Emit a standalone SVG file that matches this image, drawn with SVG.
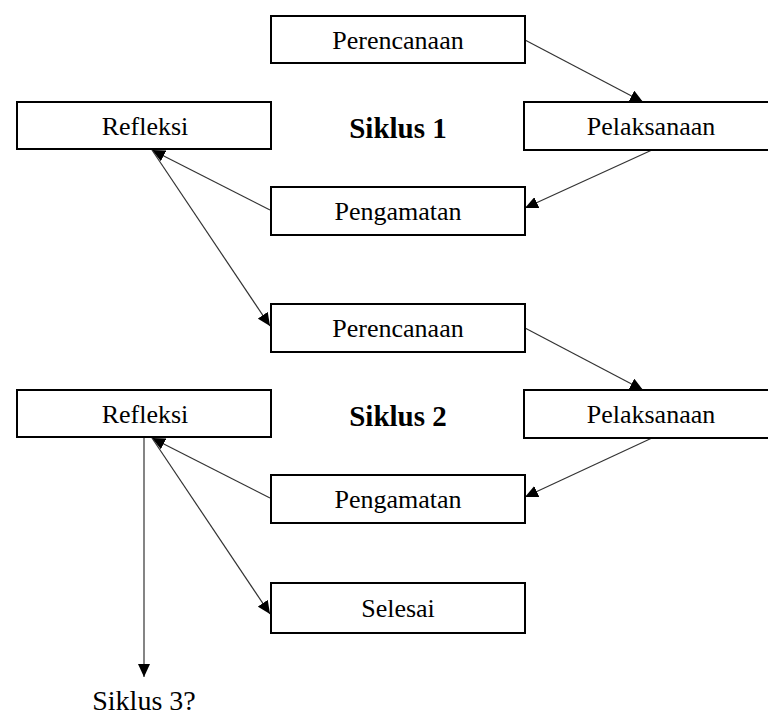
<svg xmlns="http://www.w3.org/2000/svg" width="768" height="718" viewBox="0 0 768 718">
<style>
.box{fill:#fff;stroke:#000;stroke-width:2}
.lbl{font-family:"Liberation Serif","Times New Roman",serif;font-size:26px;text-anchor:middle;fill:#000}
.ttl{font-family:"Liberation Serif","Times New Roman",serif;font-size:29px;font-weight:bold;text-anchor:middle;fill:#000}
.con{stroke:#333;stroke-width:1.2;fill:none;marker-end:url(#ah)}
</style>
<defs>
<marker id="ah" markerUnits="userSpaceOnUse" markerWidth="14" markerHeight="12" refX="13" refY="6" orient="auto">
<path d="M0,0 L13,6 L0,12 Z" fill="#000"/>
</marker>
</defs>
<rect width="768" height="718" fill="#fff"/>
<g id="connectors">
<line class="con" x1="525" y1="40" x2="643" y2="102"/>
<line class="con" x1="652" y1="150" x2="525" y2="208"/>
<line class="con" x1="270" y1="210" x2="152" y2="150"/>
<line class="con" x1="152" y1="150" x2="270" y2="326"/>
<line class="con" x1="525" y1="328" x2="643" y2="390"/>
<line class="con" x1="652" y1="438" x2="525" y2="497"/>
<line class="con" x1="270" y1="498" x2="152" y2="438"/>
<line class="con" x1="152" y1="438" x2="270" y2="614"/>
<line class="con" x1="144" y1="438" x2="144" y2="677"/>
</g>
<g id="perencanaan1"><rect class="box" x="271" y="16" width="254" height="47"/><text class="lbl" x="398" y="49">Perencanaan</text></g>
<g id="refleksi1"><rect class="box" x="17" y="102" width="254" height="47"/><text class="lbl" x="145" y="135">Refleksi</text></g>
<g id="siklus1"><text class="ttl" x="398" y="138">Siklus 1</text></g>
<g id="pelaksanaan1"><rect class="box" x="524" y="102" width="250" height="48"/><text class="lbl" x="651" y="135">Pelaksanaan</text></g>
<g id="pengamatan1"><rect class="box" x="271" y="187" width="254" height="48"/><text class="lbl" x="398" y="220">Pengamatan</text></g>
<g id="perencanaan2"><rect class="box" x="271" y="304" width="254" height="48"/><text class="lbl" x="398" y="337">Perencanaan</text></g>
<g id="refleksi2"><rect class="box" x="17" y="390" width="254" height="47"/><text class="lbl" x="145" y="423">Refleksi</text></g>
<g id="siklus2"><text class="ttl" x="398" y="426">Siklus 2</text></g>
<g id="pelaksanaan2"><rect class="box" x="524" y="390" width="250" height="48"/><text class="lbl" x="651" y="423">Pelaksanaan</text></g>
<g id="pengamatan2"><rect class="box" x="271" y="475" width="254" height="48"/><text class="lbl" x="398" y="508">Pengamatan</text></g>
<g id="selesai"><rect class="box" x="271" y="583" width="254" height="50"/><text class="lbl" x="398" y="617">Selesai</text></g>
<g id="siklus3"><text x="144" y="710" font-family="'Liberation Serif','Times New Roman',serif" font-size="28" text-anchor="middle" fill="#000">Siklus 3?</text></g>
</svg>
